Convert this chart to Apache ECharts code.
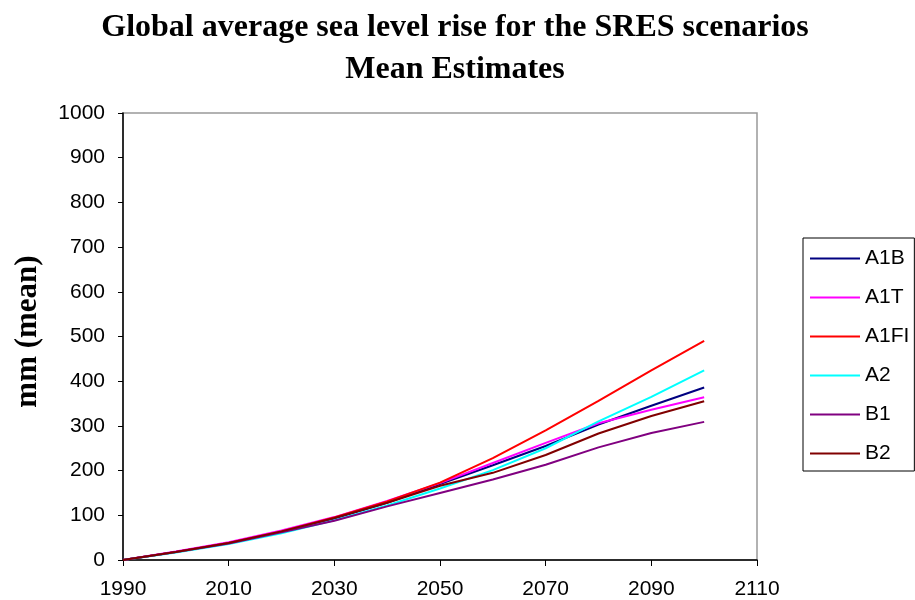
<!DOCTYPE html>
<html>
<head>
<meta charset="utf-8">
<script src="https://cdn.jsdelivr.net/npm/echarts@6/dist/echarts.min.js"></script>
<style>html,body{margin:0;padding:0;background:#fff;}#c{width:915px;height:600px;}</style>
</head>
<body>
<div id="c"></div>
<script>
const years = [1990,2000,2010,2020,2030,2040,2050,2060,2070,2080,2090,2100];
const A1B  = [0,18,38,64,93,128,170,212,255,303,345,386];
const A1T  = [0,19,40,66,96,132,172,217,262,306,336,364];
const A1FI = [0,18,38,64,95,131,173,228,290,356,424,490];
const A2   = [0,17,36,60,89,122,160,201,250,310,365,424];
const B1   = [0,18,37,62,88,120,150,180,213,252,284,309];
const B2   = [0,18,38,64,94,128,166,195,235,283,322,355];
const seriesNames = ['A1B','A1T','A1FI','A2','B1','B2'];
const seriesData = [A1B,A1T,A1FI,A2,B1,B2];
const colors = ['#000080','#ff00ff','#ff0000','#00ffff','#800080','#800000'];

const chart = echarts.init(document.getElementById('c'));
chart.setOption({
  animation: false,
  backgroundColor: '#fff',
  title: {
    text: 'Global average sea level rise for the SRES scenarios\nMean Estimates',
    left: 450, top: 2, textAlign: 'center',
    textStyle: { fontFamily: 'Liberation Serif', fontWeight: 'bold', fontSize: 32, lineHeight: 42, color: '#000' }
  },
  legend: {
    orient: 'vertical',
    left: 803, top: 238,
    padding: [9, 5, 6, 7],
    itemWidth: 50, itemHeight: 2,
    itemGap: 16,
    borderColor: '#000', borderWidth: 1,
    icon: 'rect',
    data: seriesNames,
    textStyle: { fontFamily: 'Liberation Sans', fontSize: 21, lineHeight: 23, color: '#000' }
  },
  grid: { left: 123, right: 158, top: 113, bottom: 40, show: true, borderColor: '#999', borderWidth: 1.5 },
  xAxis: {
    type: 'value', min: 1990, max: 2110, interval: 20,
    axisLine: { lineStyle: { color: '#000', width: 1.5 } },
    axisTick: { show: true, length: 6, lineStyle: { color: '#000' } },
    axisLabel: { fontFamily: 'Liberation Sans', fontSize: 21, color: '#000', margin: 19, formatter: v => String(v) },
    splitLine: { show: false }
  },
  yAxis: {
    type: 'value', min: 0, max: 1000, interval: 100,
    name: 'mm (mean)', nameLocation: 'middle', nameGap: 80,
    nameTextStyle: { fontFamily: 'Liberation Serif', fontWeight: 'bold', fontSize: 31, color: '#000', padding: [0, 0, 0, 10] },
    axisLine: { show: true, lineStyle: { color: '#000', width: 1.5 } },
    axisTick: { show: true, length: 5, lineStyle: { color: '#000' } },
    axisLabel: { fontFamily: 'Liberation Sans', fontSize: 21, color: '#000', margin: 18, formatter: v => String(v) },
    splitLine: { show: false }
  },
  series: seriesNames.map((n, i) => ({
    name: n, type: 'line', showSymbol: false, symbol: 'none',
    data: years.map((y, j) => [y, seriesData[i][j]]),
    lineStyle: { color: colors[i], width: 2 },
    itemStyle: { color: colors[i] }
  }))
});
</script>
</body>
</html>
